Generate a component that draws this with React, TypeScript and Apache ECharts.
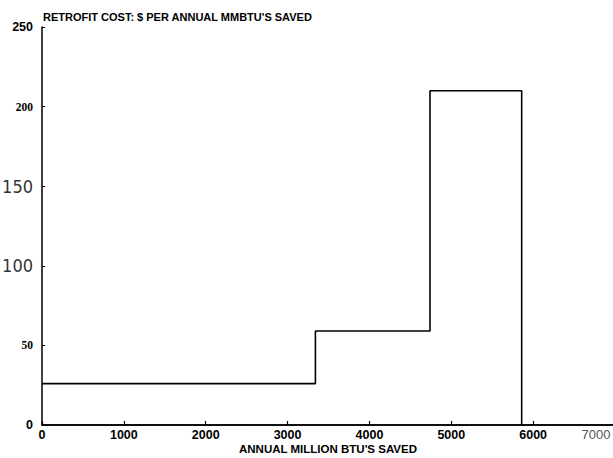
import React, { useEffect, useRef } from "react";
import * as echarts from "echarts";

// Step segments: start and end of annual MMBtu saved, cost level
const segStarts = [0, 3340, 4740];
const segEnds = [3340, 4740, 5860];
const costs = [26, 59, 210];

const xTicks = [0, 1000, 2000, 3000, 4000, 5000, 6000, 7000];
const yTicks = [0, 50, 100, 150, 200, 250];

const title = "RETROFIT COST: $ PER ANNUAL MMBTU'S SAVED";
const xName = "ANNUAL MILLION BTU'S SAVED";

export default function App() {
  const ref = useRef<HTMLDivElement>(null);
  useEffect(() => {
    if (!ref.current) return;
    const chart = echarts.init(ref.current, null, { renderer: "svg" });
    const pts: [number, number][] = [];
    segStarts.forEach((s, i) => {
      pts.push([s, costs[i]]);
      pts.push([segEnds[i], costs[i]]);
    });
    pts.push([segEnds[segEnds.length - 1], 0]);

    const sans = "'Liberation Sans', Arial, sans-serif";
    const serif = "'Liberation Serif', 'Times New Roman', serif";
    const narrow = "'Liberation Sans Narrow', 'DejaVu Sans Condensed', sans-serif";

    chart.setOption({
      animation: false,
      backgroundColor: "#fff",
      grid: { left: 42, right: -2, top: 27, bottom: 33, containLabel: false, outerBoundsMode: "none" },
      title: {
        text: title,
        left: 38,
        top: 6,
        textStyle: { fontFamily: sans, fontWeight: "bold", fontSize: 11, color: "#000" },
      },
      graphic: [
        {
          type: "text",
          x: 328,
          y: 443,
          style: {
            text: xName,
            textAlign: "center",
            textVerticalAlign: "top",
            fontFamily: sans,
            fontWeight: "bold",
            fontSize: 11.5,
            fill: "#000",
          },
        },
      ],
      xAxis: [
        {
          type: "value",
          min: xTicks[0],
          max: xTicks[xTicks.length - 1],
          interval: 1000,
          axisLine: { show: true, onZero: false, lineStyle: { color: "#000", width: 1.5 } },
          axisTick: { show: true, inside: true, length: 4, lineStyle: { color: "#000", width: 1.2 } },
          splitLine: { show: false },
          axisLabel: {
            margin: 3,
            showMaxLabel: true,
            formatter: (v: number) => (v === 7000 ? `{g|${v}}` : `{b|${v}}`),
            rich: {
              b: { fontFamily: sans, fontWeight: "bold", fontSize: 12.5, color: "#000", lineHeight: 13 },
              g: { fontFamily: sans, fontWeight: "normal", fontSize: 13, color: "#555", lineHeight: 13, padding: [0, 38, 0, 0] },
            },
          },
        },
        {
          type: "value",
          position: "top",
          min: xTicks[0],
          max: xTicks[xTicks.length - 1],
          axisLine: { show: true, lineStyle: { color: "#000", width: 1.5 } },
          axisTick: { show: false },
          axisLabel: { show: false },
          splitLine: { show: false },
        },
      ],
      yAxis: {
        type: "value",
        min: yTicks[0],
        max: yTicks[yTicks.length - 1],
        interval: 50,
        axisLine: { show: true, lineStyle: { color: "#000", width: 1.5 } },
        axisTick: { show: true, inside: true, length: 3, lineStyle: { color: "#000", width: 1 } },
        splitLine: { show: false },
        axisLabel: {
          margin: 9,
          formatter: (v: number) => `{s${v}|${v}}`,
          rich: {
            s0: { fontFamily: sans, fontWeight: "bold", fontSize: 12.5, color: "#000" },
            s50: { fontFamily: serif, fontWeight: "bold", fontSize: 11.5, color: "#000" },
            s100: { fontFamily: narrow, fontWeight: "normal", fontSize: 18, color: "#333" },
            s150: { fontFamily: narrow, fontWeight: "normal", fontSize: 18, color: "#333" },
            s200: { fontFamily: serif, fontWeight: "bold", fontSize: 11.5, color: "#000" },
            s250: { fontFamily: sans, fontWeight: "bold", fontSize: 12.5, color: "#000" },
          },
        },
      },
      series: [
        {
          type: "line",
          data: pts,
          symbol: "none",
          lineStyle: { color: "#000", width: 1.6 },
          xAxisIndex: 0,
        },
      ],
    });
    return () => chart.dispose();
  }, []);
  return <div ref={ref} style={{ width: 613, height: 458, position: "absolute", left: 0, top: 0 }} />;
}
